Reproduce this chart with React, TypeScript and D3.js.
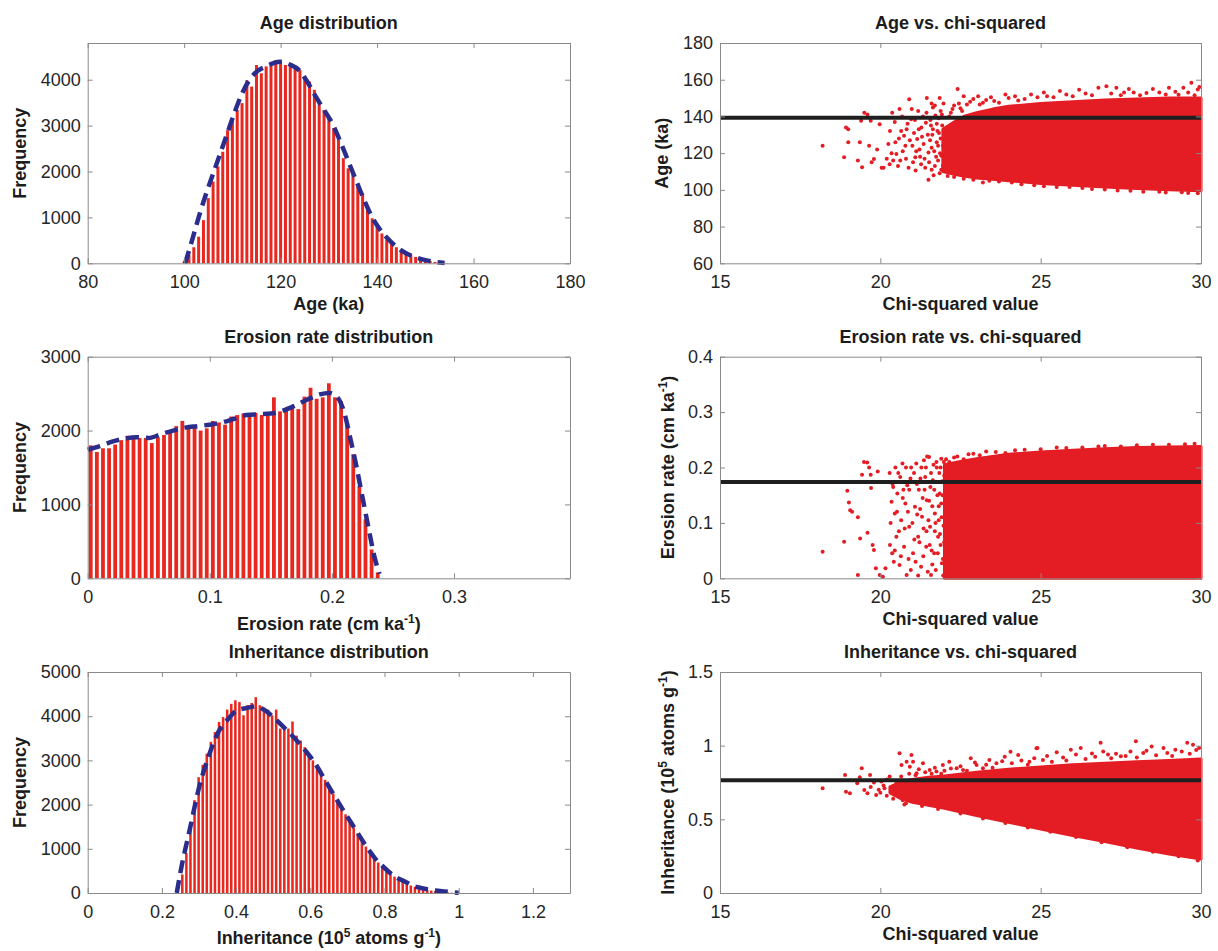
import React, { useEffect, useRef } from "react";
import * as d3 from "d3";

// ---------- histogram data (bin centres + counts) ----------
const ageCenters = [100, 101, 102, 103, 104, 105, 106, 107, 108, 109, 110, 111, 112, 113, 114, 115, 116, 117, 118, 119, 120,
  121, 122, 123, 124, 125, 126, 127, 128, 129, 130, 131, 132, 133, 134, 135, 136, 137, 138, 139, 140,
  141, 142, 143, 144, 145, 146, 147, 148, 149, 150, 151, 152, 153, 154];
const ageCounts = [35, 180, 350, 580, 940, 1420, 1780, 2110, 2430, 2900, 3120, 3340, 3490, 3990, 3850, 4320, 4140, 4290, 4360, 4430, 4390,
  4320, 4290, 4250, 4210, 4070, 3960, 3780, 3490, 3340, 3160, 2940, 2690, 2290, 2070, 1960, 1670, 1520, 1270, 980, 800,
  650, 520, 430, 350, 290, 230, 180, 140, 100, 70, 50, 30, 15, 5];
const ageFit = [[100.2, 0], [101.5, 450], [103, 1000], [104.5, 1500], [106, 1950], [107.5, 2400], [109, 2850], [110.5, 3300],
  [112, 3700], [113.5, 3990], [115.2, 4190], [116.9, 4285], [118.5, 4360], [120, 4390], [121.9, 4330], [123.8, 4210],
  [125.5, 3960], [127.3, 3630], [129, 3340], [130.7, 3050], [132.5, 2620], [134.2, 2180], [135.9, 1740], [137.6, 1310],
  [139, 1000], [140.5, 750], [142, 560], [144, 360], [146, 220], [148, 130], [150, 70], [152, 30], [154, 5]];

const eroCenters = [0.0025, 0.0075, 0.0125, 0.0175, 0.0225, 0.0275, 0.0325, 0.0375, 0.0425, 0.0475, 0.0525, 0.0575,
  0.0625, 0.0675, 0.0725, 0.0775, 0.0825, 0.0875, 0.0925, 0.0975, 0.1025, 0.1075, 0.1125, 0.1175, 0.1225, 0.1275,
  0.1325, 0.1375, 0.1425, 0.1475, 0.1525, 0.1575, 0.1625, 0.1675, 0.1725, 0.1775, 0.1825, 0.1875, 0.1925, 0.1975,
  0.2025, 0.2075, 0.2125, 0.2175, 0.2225, 0.2275, 0.2325, 0.2375];
const eroCounts = [1800, 1710, 1760, 1760, 1810, 1870, 1930, 1910, 1900, 1900, 1830, 1910, 1940, 1970, 2060, 2130,
  2060, 2040, 2000, 2030, 2130, 2110, 2080, 2190, 2210, 2230, 2220, 2240, 2210, 2200, 2450, 2260, 2300, 2320, 2290,
  2460, 2580, 2430, 2450, 2640, 2450, 2400, 2100, 1680, 1250, 800, 390, 80];
const eroFit = [[0, 1740], [0.01, 1790], [0.02, 1850], [0.03, 1890], [0.04, 1910], [0.05, 1900], [0.06, 1950], [0.07, 2000],
  [0.08, 2040], [0.09, 2060], [0.1, 2080], [0.11, 2110], [0.12, 2160], [0.13, 2210], [0.14, 2220], [0.15, 2230],
  [0.16, 2270], [0.17, 2340], [0.18, 2420], [0.19, 2490], [0.198, 2510], [0.205, 2440], [0.21, 2250], [0.215, 1900],
  [0.22, 1520], [0.225, 1100], [0.23, 680], [0.235, 280], [0.239, 60]];

const inhCenters = [0.255, 0.266, 0.277, 0.288, 0.299, 0.310, 0.321, 0.332, 0.343, 0.354, 0.365, 0.376, 0.387, 0.398,
  0.409, 0.420, 0.431, 0.442, 0.453, 0.464, 0.475, 0.486, 0.497, 0.508, 0.519, 0.530, 0.541, 0.552, 0.563, 0.574,
  0.585, 0.596, 0.607, 0.618, 0.629, 0.640, 0.651, 0.662, 0.673, 0.684, 0.695, 0.706, 0.717, 0.728, 0.739, 0.750,
  0.761, 0.772, 0.783, 0.794, 0.805, 0.816, 0.827, 0.838, 0.849, 0.860, 0.871, 0.882, 0.893, 0.904, 0.915, 0.926,
  0.937, 0.948, 0.959, 0.970, 0.981];
const inhCounts = [420, 900, 1570, 2100, 2620, 2900, 3150, 3420, 3640, 3870, 3980, 4150, 4280, 4360, 4320, 4020, 4250,
  4300, 4430, 4250, 4170, 4150, 4020, 4150, 3720, 3700, 3720, 3880, 3560, 3450, 3300, 3150, 3000, 2880, 2700, 2560,
  2380, 2250, 2050, 1900, 1780, 1620, 1480, 1350, 1200, 1050, 920, 800, 690, 600, 520, 440, 370, 310, 260, 210, 170,
  140, 110, 90, 70, 55, 40, 30, 20, 12, 6];
const inhFit = [[0.24, 0], [0.253, 600], [0.276, 1470], [0.298, 2315], [0.325, 3070], [0.352, 3640], [0.379, 3940],
  [0.402, 4130], [0.428, 4185], [0.455, 4220], [0.478, 4130], [0.505, 3940], [0.532, 3720], [0.559, 3490],
  [0.586, 3230], [0.613, 2930], [0.64, 2550], [0.667, 2170], [0.694, 1800], [0.72, 1460], [0.748, 1090],
  [0.774, 790], [0.801, 560], [0.828, 370], [0.855, 260], [0.878, 160], [0.9, 110], [0.93, 65], [0.96, 35], [1.0, 3]];

// ---------- scatter data: dense core envelope + the sparse points around it ----------
const ageCoreChi = [21.95, 22.3, 22.6, 23, 23.5, 24, 25, 26, 27, 28, 29, 30];
const ageCoreTop = [133, 137, 140, 142, 144, 145.5, 147, 148, 149, 149.5, 150, 150];
const ageCoreBot = [110, 108.5, 107.5, 106.5, 105.8, 105, 103.5, 102.5, 101.5, 100.7, 100, 99.5];
const ageDots = [[18.2, 124], [18.87, 117.7], [18.93, 134], [19.0, 133], [19.0, 126], [19.3, 116], [19.36, 126], [19.4, 137.6],
  [19.43, 112.3], [19.5, 142], [19.6, 141], [19.65, 124], [19.7, 137.6], [19.73, 115], [19.8, 116.8], [19.9, 122],
  [19.98, 135.8], [20.04, 112], [20.1, 112], [20.2, 117], [20.29, 114], [20.3, 132], [20.37, 142], [20.4, 116],
  [20.47, 126], [20.5, 119.5], [20.6, 144], [20.65, 132], [20.74, 129.5], [20.8, 117], [20.9, 149.3], [20.96, 138.5],
  [21.0, 124], [21.09, 117.7], [21.15, 127.7], [21.2, 133], [21.27, 114], [21.33, 140], [21.45, 150], [21.5, 105.5],
  [21.5, 120.4], [21.58, 135], [21.64, 144.8], [21.7, 113], [21.76, 126], [21.82, 139], [21.9, 118.6],
  [20.55, 113], [20.7, 121], [20.85, 136], [21.05, 131], [21.1, 110.5], [21.22, 122], [21.3, 129], [21.38, 117],
  [21.42, 136.5], [21.55, 127], [21.6, 111], [21.62, 130], [21.68, 121], [21.72, 140.5], [21.78, 132], [21.8, 116],
  [21.85, 109], [21.88, 128], [21.92, 141], [21.95, 113],
  [20.25, 125], [20.35, 120], [20.45, 137], [20.58, 128], [20.62, 116], [20.68, 140], [20.78, 124], [20.82, 133],
  [20.88, 112], [20.92, 127], [20.98, 144], [21.02, 115], [21.08, 138], [21.12, 121], [21.18, 143], [21.24, 118],
  [21.28, 134], [21.35, 125], [21.4, 112], [21.44, 142], [21.48, 130], [21.52, 115], [21.56, 138], [21.6, 123],
  [21.64, 133], [21.66, 108], [21.7, 146], [21.74, 118], [21.76, 136], [21.8, 124], [21.83, 131], [21.86, 120],
  [21.88, 143], [21.9, 111], [21.93, 135], [21.95, 124], [21.97, 147], [21.98, 117], [21.6, 147], [21.85, 150],
  [22.41, 155], [22.6, 151], [22.8, 148], [23.05, 151], [23.3, 149], [23.55, 148.4], [24.0, 150], [24.3, 148.7],
  [24.7, 152], [25.2, 151], [25.6, 153.8], [26.0, 151], [26.4, 152.5], [26.8, 155.6], [27.05, 156.5], [27.36, 155.6],
  [27.6, 153], [27.9, 153], [28.3, 152.8], [28.7, 153], [29.0, 155.6], [29.2, 153.5], [29.45, 155.6], [29.7, 158.3],
  [29.9, 154.7], [22.2, 142], [22.3, 146], [22.5, 144.5], [22.7, 146.5], [23.2, 147.5],
  [22.15, 140], [22.25, 144], [22.45, 147], [22.55, 143], [22.9, 149.5], [23.1, 146.5], [23.45, 150.5], [23.7, 147.5],
  [23.9, 152], [24.2, 151], [24.5, 149.5], [24.9, 150.5], [25.1, 153], [25.4, 150.5], [25.8, 152], [26.2, 154.5],
  [26.6, 151.5], [27.2, 152.5], [27.5, 151.5], [27.75, 155], [28.1, 151.5], [28.5, 155], [28.9, 152], [29.3, 151.8],
  [29.6, 153], [29.8, 151.5], [29.95, 156],
  [22.1, 107.5], [22.6, 106], [23.4, 105], [24.1, 104], [24.8, 102.5], [25.5, 101.5], [26.3, 101], [27.0, 100.2],
  [27.8, 99.5], [28.7, 99], [29.4, 98.7], [29.9, 98.2], [22.3, 107], [22.9, 105.5], [23.2, 104], [23.7, 104.5],
  [24.4, 103], [25.1, 102], [25.9, 101.5], [26.6, 100.5], [27.4, 99.7], [28.2, 99], [28.9, 98.5], [29.6, 98.3]];
const ageBest = 139.3;

const eroCoreChi = [22.0, 22.5, 23, 23.5, 24, 25, 26, 27, 28, 29, 30];
const eroCoreTop = [0.205, 0.211, 0.216, 0.22, 0.224, 0.228, 0.231, 0.234, 0.236, 0.237, 0.238];
const eroCoreBot = [0, 0, 0, 0, 0, 0, 0, 0, 0, 0, 0];
const eroDots = [[18.2, 0.048], [18.87, 0.066], [18.97, 0.158], [19.02, 0.137], [19.06, 0.123], [19.12, 0.12], [19.3, 0.11],
  [19.3, 0.006], [19.37, 0.072], [19.43, 0.187], [19.49, 0.21], [19.59, 0.209], [19.6, 0.082], [19.65, 0.2], [19.7, 0.187],
  [19.71, 0.163], [19.76, 0.06], [19.8, 0.051], [19.86, 0.018], [19.92, 0.193], [19.98, 0.006], [20.08, 0.003],
  [20.16, 0.018], [20.29, 0.19], [20.32, 0.1], [20.35, 0.138], [20.37, 0.045], [20.4, 0.165], [20.45, 0.117],
  [20.47, 0.2], [20.5, 0.075], [20.53, 0.153], [20.6, 0.024], [20.62, 0.183], [20.65, 0.105], [20.69, 0.207],
  [20.74, 0.057], [20.78, 0.135], [20.82, 0.006], [20.84, 0.168], [20.9, 0.093], [20.96, 0.2], [21.02, 0.045],
  [21.08, 0.129], [21.12, 0.207], [21.18, 0.075], [21.2, 0.16], [21.27, 0.021], [21.3, 0.111], [21.36, 0.213],
  [21.4, 0.183], [21.43, 0.057], [21.45, 0.141], [21.52, 0.219], [21.55, 0.093], [21.58, 0.006], [21.64, 0.177],
  [21.68, 0.045], [21.7, 0.117], [21.76, 0.2], [21.8, 0.075], [21.85, 0.153], [21.9, 0.216], [21.92, 0.027],
  [21.05, 0.19], [21.1, 0.03], [21.15, 0.115], [21.22, 0.065], [21.25, 0.18], [21.32, 0.145], [21.35, 0.09],
  [21.42, 0.2], [21.48, 0.012], [21.5, 0.105], [21.56, 0.165], [21.6, 0.05], [21.62, 0.13], [21.66, 0.205],
  [21.7, 0.085], [21.73, 0.015], [21.78, 0.15], [21.82, 0.105], [21.84, 0.19], [21.88, 0.06], [21.9, 0.135],
  [21.93, 0.175], [21.95, 0.035], [21.97, 0.095], [21.98, 0.21], [20.9, 0.16], [20.95, 0.015], [20.7, 0.145],
  [20.58, 0.085], [20.45, 0.05],
  [20.3, 0.06], [20.38, 0.17], [20.42, 0.03], [20.52, 0.12], [20.56, 0.19], [20.64, 0.04], [20.72, 0.16], [20.76, 0.09],
  [20.8, 0.2], [20.86, 0.12], [20.88, 0.035], [20.94, 0.18], [21.0, 0.1], [21.06, 0.07], [21.14, 0.17], [21.18, 0.005],
  [21.24, 0.125], [21.28, 0.2], [21.34, 0.04], [21.38, 0.16], [21.44, 0.085], [21.46, 0.22], [21.52, 0.14], [21.54, 0.06],
  [21.58, 0.19], [21.62, 0.025], [21.68, 0.16], [21.72, 0.1], [21.75, 0.21], [21.79, 0.045], [21.82, 0.13], [21.86, 0.08],
  [21.88, 0.2], [21.91, 0.11], [21.94, 0.15], [21.96, 0.005], [21.99, 0.065], [21.99, 0.185],
  [22.3, 0.218], [22.75, 0.224], [23.3, 0.229], [24.2, 0.231], [25.5, 0.236], [27, 0.239], [28.5, 0.241], [29.5, 0.242],
  [22.05, 0.215], [22.15, 0.21], [22.4, 0.22], [22.6, 0.215], [22.9, 0.225], [23.1, 0.222], [23.6, 0.228], [23.9, 0.226],
  [24.5, 0.232], [25, 0.233], [25.8, 0.235], [26.3, 0.236], [26.8, 0.238], [27.5, 0.238], [28, 0.24], [29, 0.241],
  [29.8, 0.243]];
const eroBest = 0.174;

const inhCoreChi = [20.3, 20.6, 21, 21.5, 22, 23, 24, 25, 26, 27, 28, 29, 30];
const inhCoreTop = [0.72, 0.75, 0.77, 0.785, 0.795, 0.82, 0.84, 0.855, 0.87, 0.88, 0.89, 0.9, 0.91];
const inhCoreBot = [0.68, 0.645, 0.615, 0.595, 0.575, 0.525, 0.48, 0.435, 0.39, 0.35, 0.305, 0.265, 0.23];
const inhDots = [[18.2, 0.711], [18.9, 0.801], [18.93, 0.688], [19.05, 0.677], [19.28, 0.745], [19.36, 0.785],
  [19.42, 0.846], [19.5, 0.699], [19.6, 0.677], [19.68, 0.801], [19.87, 0.665], [20.03, 0.756], [20.13, 0.711],
  [20.29, 0.79], [20.34, 0.699], [20.5, 0.745], [20.6, 0.948], [20.66, 0.869], [20.82, 0.891], [20.92, 0.857],
  [21.02, 0.891], [20.97, 0.936], [21.33, 0.88], [21.13, 0.812], [21.54, 0.835], [21.75, 0.824], [21.95, 0.869],
  [22.15, 0.891], [22.38, 0.846], [22.58, 0.835], [22.82, 0.914], [23.0, 0.869], [23.2, 0.846], [23.4, 0.903],
  [23.62, 0.88], [23.88, 0.925], [24.06, 0.959], [24.3, 0.936], [24.65, 0.891], [24.87, 0.982], [25.07, 0.903],
  [24.9, 0.984], [25.94, 0.973], [26.25, 0.984], [26.87, 1.02], [27.1, 0.94], [27.8, 0.96], [27.97, 1.03],
  [28.46, 0.995], [28.83, 0.984], [29.57, 1.02], [29.75, 1.007], [29.94, 0.984], [25.5, 0.955], [26.6, 0.946],
  [29.2, 0.973], [28.2, 0.95], [27.5, 0.928], [20.4, 0.64], [20.2, 0.66], [19.95, 0.7], [20.75, 0.6],
  [20.9, 0.81], [21.2, 0.84], [21.6, 0.81], [22.0, 0.83],
  [21.1, 0.8], [21.4, 0.82], [21.7, 0.85], [21.9, 0.81], [22.2, 0.845], [22.5, 0.86], [22.7, 0.83], [22.95, 0.885],
  [23.3, 0.87], [23.5, 0.85], [23.8, 0.895], [24.1, 0.88], [24.4, 0.9], [24.6, 0.87], [24.8, 0.915], [25.2, 0.93],
  [25.35, 0.89], [25.7, 0.92], [25.8, 0.9], [26.1, 0.94], [26.4, 0.91], [26.7, 0.925], [26.95, 0.96], [27.2, 0.915],
  [27.35, 0.945], [27.65, 0.93], [28.0, 0.92], [28.3, 0.965], [28.6, 0.935], [28.95, 0.95], [29.1, 0.93], [29.4, 0.96],
  [29.65, 0.945], [29.85, 0.97],
  [20.8, 0.61], [21.3, 0.59], [21.8, 0.57], [22.5, 0.54], [23.2, 0.505], [23.9, 0.475], [24.6, 0.445], [25.3, 0.415],
  [26.1, 0.38], [26.9, 0.345], [27.7, 0.31], [28.5, 0.28], [29.3, 0.25], [29.9, 0.22],
  [19.7, 0.72], [19.8, 0.75], [20.0, 0.68], [20.1, 0.73], [20.2, 0.77], [20.4, 0.7], [20.55, 0.67], [20.65, 0.79],
  [20.7, 0.63]];
const inhBest = 0.766;

// ---------- tick values ----------
const ageTicksX = [80, 100, 120, 140, 160, 180];
const ageTicksY = [0, 1000, 2000, 3000, 4000];
const eroTicksX = [0, 0.1, 0.2, 0.3];
const eroTicksY = [0, 1000, 2000, 3000];
const inhTicksX = [0, 0.2, 0.4, 0.6, 0.8, 1, 1.2];
const inhTicksY = [0, 1000, 2000, 3000, 4000, 5000];
const chiTicks = [15, 20, 25, 30];
const ageScTicks = [60, 80, 100, 120, 140, 160, 180];
const eroScTicks = [0, 0.1, 0.2, 0.3, 0.4];
const inhScTicks = [0, 0.5, 1, 1.5];

const FONT = "'Liberation Sans', Arial, Helvetica, sans-serif";
const BAR_RED = "#e8271f";
const DOT_RED = "#e41d24";
const BLUE = "#2b2d8c";
const BOX = "#8a8a8a";
const TXT = "#262626";

type Seg = { t: string; sup?: boolean };

function richText(sel: any, segs: Seg[]) {
  let prevSup = false;
  segs.forEach((s) => {
    const ts = sel.append("tspan").text(s.t);
    if (s.sup) ts.attr("dy", -7).attr("font-size", 12);
    else if (prevSup) ts.attr("dy", 7);
    prevSup = !!s.sup;
  });
}

function frame(g: any, x: any, y: any, xt: number[], yt: number[]) {
  const [x0, x1] = x.range();
  const [y0, y1] = y.range();
  const fmt = (d: any) => String(d);
  g.append("g").attr("transform", `translate(0,${y0})`)
    .call(d3.axisBottom(x).tickValues(xt).tickSizeInner(-5).tickSizeOuter(0).tickPadding(12).tickFormat(fmt));
  g.append("g").attr("transform", `translate(0,${y1})`)
    .call(d3.axisTop(x).tickValues(xt).tickSizeInner(-5).tickSizeOuter(0).tickFormat(() => ""));
  g.append("g").attr("transform", `translate(${x0},0)`)
    .call(d3.axisLeft(y).tickValues(yt).tickSizeInner(-5).tickSizeOuter(0).tickPadding(7).tickFormat(fmt));
  g.append("g").attr("transform", `translate(${x1},0)`)
    .call(d3.axisRight(y).tickValues(yt).tickSizeInner(-5).tickSizeOuter(0).tickFormat(() => ""));
  g.selectAll(".domain").attr("stroke", BOX).attr("stroke-width", 1);
  g.selectAll(".tick line").attr("stroke", BOX);
  g.selectAll(".tick text").attr("fill", TXT).attr("font-size", 18).attr("font-family", FONT);
}

function texts(g: any, x: any, y: any, title: string, xl: Seg[], yl: Seg[], xlOff: number, ylOff: number) {
  const [x0, x1] = x.range();
  const [y0, y1] = y.range();
  const cx = (x0 + x1) / 2;
  const cy = (y0 + y1) / 2;
  const common = (t: any) => t.attr("font-family", FONT).attr("font-size", 18).attr("font-weight", "bold")
    .attr("fill", "#1c1c1c").attr("text-anchor", "middle");
  common(g.append("text").attr("x", cx).attr("y", y1 - 14)).text(title);
  richText(common(g.append("text").attr("x", cx).attr("y", y0 + xlOff)), xl);
  richText(common(g.append("text").attr("transform", `translate(${x0 - ylOff},${cy}) rotate(-90)`)), yl);
}

export default function App() {
  const svgRef = useRef<SVGSVGElement | null>(null);

  useEffect(() => {
    const svg = d3.select(svgRef.current);
    svg.selectAll("*").remove();

    const colL: [number, number] = [87.7, 570];
    const colR: [number, number] = [720, 1201];
    const rows: [number, number][] = [[263.3, 43], [578.3, 356.7], [893, 672]];

    // histogram panels
    const hists = [
      { centers: ageCenters, counts: ageCounts, fit: ageFit, xd: [80, 180], yd: [0, 4800], xt: ageTicksX, yt: ageTicksY,
        title: "Age distribution", xl: [{ t: "Age (ka)" }], xlOff: 47 },
      { centers: eroCenters, counts: eroCounts, fit: eroFit, xd: [0, 0.395], yd: [0, 3000], xt: eroTicksX, yt: eroTicksY,
        title: "Erosion rate distribution", xl: [{ t: "Erosion rate (cm ka" }, { t: "-1", sup: true }, { t: ")" }], xlOff: 52 },
      { centers: inhCenters, counts: inhCounts, fit: inhFit, xd: [0, 1.3], yd: [0, 5000], xt: inhTicksX, yt: inhTicksY,
        title: "Inheritance distribution", xl: [{ t: "Inheritance (10" }, { t: "5", sup: true }, { t: " atoms g" }, { t: "-1", sup: true }, { t: ")" }], xlOff: 51 },
    ];

    hists.forEach((h, i) => {
      const g = svg.append("g");
      const x = d3.scaleLinear().domain(h.xd).range(colL);
      const y = d3.scaleLinear().domain(h.yd).range(rows[i]);
      const bw = (x(h.centers[1]) - x(h.centers[0])) * 0.62;
      g.selectAll("rect").data(h.counts).join("rect")
        .attr("x", (_d, j) => x(h.centers[j]) - bw / 2)
        .attr("width", bw)
        .attr("y", (d) => y(d))
        .attr("height", (d) => y(0) - y(d))
        .attr("fill", BAR_RED);
      g.append("path").datum(h.fit)
        .attr("fill", "none").attr("stroke", BLUE).attr("stroke-width", 4.5)
        .attr("stroke-dasharray", "13 7")
        .attr("d", d3.line<number[]>().x((d) => x(d[0])).y((d) => y(d[1])).curve(d3.curveMonotoneX));
      frame(g, x, y, h.xt, h.yt);
      texts(g, x, y, h.title, h.xl, [{ t: "Frequency" }], h.xlOff, 62);
    });

    // scatter panels
    const scats = [
      { chi: ageCoreChi, top: ageCoreTop, bot: ageCoreBot, dots: ageDots, best: ageBest, yd: [60, 180], yt: ageScTicks,
        title: "Age vs. chi-squared", yl: [{ t: "Age (ka)" }], ylOff: 52 },
      { chi: eroCoreChi, top: eroCoreTop, bot: eroCoreBot, dots: eroDots, best: eroBest, yd: [0, 0.4], yt: eroScTicks,
        title: "Erosion rate vs. chi-squared", yl: [{ t: "Erosion rate (cm ka" }, { t: "-1", sup: true }, { t: ")" }], ylOff: 46 },
      { chi: inhCoreChi, top: inhCoreTop, bot: inhCoreBot, dots: inhDots, best: inhBest, yd: [0, 1.5], yt: inhScTicks,
        title: "Inheritance vs. chi-squared", yl: [{ t: "Inheritance (10" }, { t: "5", sup: true }, { t: " atoms g" }, { t: "-1", sup: true }, { t: ")" }], ylOff: 46 },
    ];

    scats.forEach((s, i) => {
      const g = svg.append("g");
      const x = d3.scaleLinear().domain([15, 30]).range(colR);
      const y = d3.scaleLinear().domain(s.yd).range(rows[i]);
      g.append("path").datum(s.chi)
        .attr("fill", DOT_RED).attr("stroke", DOT_RED).attr("stroke-width", 3).attr("stroke-linejoin", "round")
        .attr("d", d3.area<number>().x((d) => x(d)).y0((_d, j) => y(s.bot[j])).y1((_d, j) => y(s.top[j])));
      g.selectAll("circle").data(s.dots).join("circle")
        .attr("cx", (d) => x(d[0])).attr("cy", (d) => y(d[1])).attr("r", 2).attr("fill", DOT_RED);
      g.append("path").datum([15, 30])
        .attr("fill", "none").attr("stroke", "#1f1f1f").attr("stroke-width", 4)
        .attr("d", d3.line<number>().x((d) => x(d)).y(() => y(s.best)));
      frame(g, x, y, chiTicks, s.yt);
      texts(g, x, y, s.title, [{ t: "Chi-squared value" }], s.yl, 47, s.ylOff);
    });
  }, []);

  return (
    <svg ref={svgRef} width={1218} height={951}
      style={{ position: "absolute", left: 0, top: 0, background: "#fff" }} />
  );
}
